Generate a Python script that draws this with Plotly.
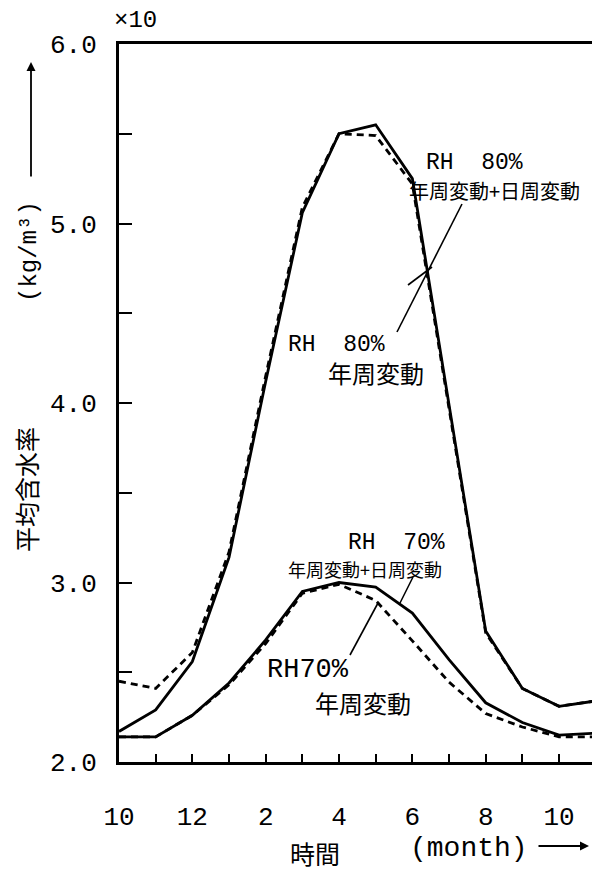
import plotly.graph_objects as go

# Months counted from October (0) through November of the following year (13)
months = list(range(14))
month_tickvals = list(range(13))
month_ticktext = ["10", "", "12", "", "2", "", "4", "", "6", "", "8", "", "10"]

# Mean moisture content (x10 kg/m3)
rh80_annual_daily = [2.17, 2.29, 2.56, 3.14, 4.12, 5.06, 5.50, 5.55, 5.25, 3.99, 2.73, 2.41, 2.31, 2.34]
rh80_annual = [2.45, 2.41, 2.61, 3.17, 4.15, 5.09, 5.50, 5.49, 5.22, 3.96, 2.72, 2.41, 2.31, 2.34]
rh70_annual_daily = [2.14, 2.14, 2.26, 2.44, 2.68, 2.95, 3.00, 2.975, 2.83, 2.57, 2.33, 2.22, 2.15, 2.16]
rh70_annual = [2.14, 2.14, 2.26, 2.43, 2.66, 2.94, 2.99, 2.90, 2.675, 2.445, 2.27, 2.195, 2.14, 2.14]

y_tickvals = [2.0, 2.5, 3.0, 3.5, 4.0, 4.5, 5.0, 5.5, 6.0]
y_ticktext = ["2.0", "", "3.0", "", "4.0", "", "5.0", "", "6.0"]

MONO = "Liberation Mono"
CJK = "Noto Sans CJK JP"

# Layout geometry in pixels
W, H = 592, 870
L, R, T, B = 119, 0, 44, 108
PW, PH = W - L - R, H - T - B
MONTH_PX = 36.67


def px(x, y):
    """Pixel position -> paper coordinates."""
    return (x - L) / PW, (H - B - y) / PH


fig = go.Figure()

dash = "7px,5px"
fig.add_trace(go.Scatter(x=months, y=rh80_annual, mode="lines",
                         line=dict(color="black", width=2.8, dash=dash)))
fig.add_trace(go.Scatter(x=months, y=rh70_annual, mode="lines",
                         line=dict(color="black", width=2.8, dash=dash)))
fig.add_trace(go.Scatter(x=months, y=rh80_annual_daily, mode="lines",
                         line=dict(color="black", width=2.8)))
fig.add_trace(go.Scatter(x=months, y=rh70_annual_daily, mode="lines",
                         line=dict(color="black", width=2.8)))

annotations = []


def text_at(x, y, text, size, family, anchor="left", angle=0, ref="data"):
    if ref == "paper":
        x, y = px(x, y)
        xr, yr = "paper", "paper"
    else:
        xr, yr = "x", "y"
    annotations.append(dict(x=x, y=y, xref=xr, yref=yr, text=text, showarrow=False,
                            xanchor=anchor, yanchor="middle", textangle=angle,
                            borderpad=0,
                            font=dict(family=family, size=size, color="black")))


def to_data(x, y):
    return (x - L) / MONTH_PX, 2.0 + (H - B - y) / (PH / 4.0)


# Curve labels
for (x, y, text, size, fam) in [
    (425, 163, "RH&nbsp;&nbsp;80%", 23, MONO),
    (408, 190, "年周変動+日周変動", 20, CJK),
    (287, 345, "RH&nbsp;&nbsp;80%", 23, MONO),
    (327, 372, "年周変動", 24, CJK),
    (347, 543, "RH&nbsp;&nbsp;70%", 23, MONO),
    (287, 569, "年周変動+日周変動", 18, CJK),
    (266, 670, "RH70%", 27, MONO),
    (314, 702, "年周変動", 24, CJK),
]:
    dx, dy = to_data(x, y)
    text_at(dx, dy, text, size, fam)

# Leader lines from the labels to the curves
shapes = []
for (x0, y0, x1, y1) in [
    (462, 204, 397, 332),
    (408, 285, 432, 267),
    (413, 577, 400, 603),
    (350, 655, 378, 603),
]:
    a0, b0 = to_data(x0, y0)
    a1, b1 = to_data(x1, y1)
    shapes.append(dict(type="line", xref="x", yref="y", x0=a0, y0=b0, x1=a1, y1=b1,
                       line=dict(color="black", width=1.6)))

# Axis titles and scale factor
text_at(113, 20, "×10", 24, MONO, ref="paper")
text_at(26, 490, "平均含水率", 25, CJK, anchor="center", angle=-90, ref="paper")
text_at(30, 252, "(kg/m³)", 24, MONO, anchor="center", angle=-90, ref="paper")
text_at(315, 853, "時間", 25, CJK, anchor="center", ref="paper")
text_at(409, 848, "(month)", 28, MONO, ref="paper")

# Arrows on the axis titles
hx, hy = px(31, 62)
annotations.append(dict(x=hx, y=hy, xref="paper", yref="paper", text="", showarrow=True,
                        ax=0, ay=116, arrowhead=2, arrowsize=1, arrowwidth=1.8,
                        arrowcolor="black"))
hx, hy = px(589, 846)
annotations.append(dict(x=hx, y=hy, xref="paper", yref="paper", text="", showarrow=True,
                        ax=-52, ay=0, arrowhead=2, arrowsize=1, arrowwidth=1.8,
                        arrowcolor="black"))

fig.update_layout(
    width=W, height=H,
    margin=dict(l=L, r=R, t=T, b=B),
    paper_bgcolor="white", plot_bgcolor="white",
    showlegend=False,
    annotations=annotations,
    shapes=shapes,
    xaxis=dict(range=[0, PW / MONTH_PX], tickvals=month_tickvals, ticktext=month_ticktext,
               ticks="inside", ticklen=8, tickwidth=2, tickcolor="black",
               showline=True, linewidth=3, linecolor="black", mirror=True,
               showgrid=False, zeroline=False, ticklabelstandoff=29,
               tickfont=dict(family=MONO, size=26, color="black")),
    yaxis=dict(range=[2.0, 6.0], tickvals=y_tickvals, ticktext=y_ticktext,
               ticks="inside", ticklen=13, tickwidth=2, tickcolor="black",
               showline=True, linewidth=3, linecolor="black",
               showgrid=False, zeroline=False, ticklabelstandoff=14,
               tickfont=dict(family=MONO, size=26, color="black")),
)

fig.write_html("out.html")
